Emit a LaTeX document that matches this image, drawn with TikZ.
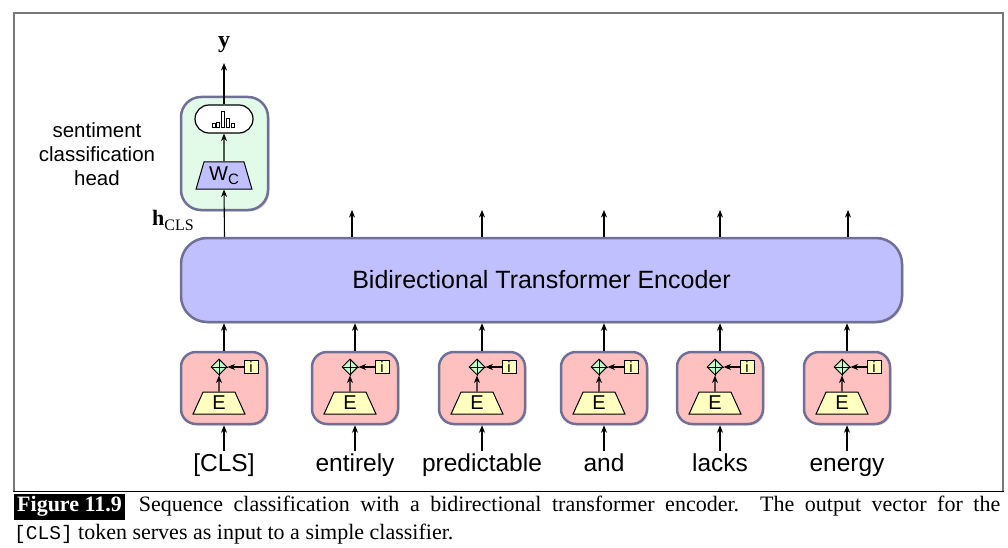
\documentclass[tikz,border=0pt]{standalone}
\usepackage{fontspec}
\setmainfont{Liberation Serif}
\setsansfont{Liberation Sans}
\setmonofont{Liberation Mono}
\usetikzlibrary{shapes.geometric,shadows,arrows.meta}
\definecolor{encfill}{RGB}{192,192,255}
\definecolor{bord}{RGB}{112,112,150}
\definecolor{tokfill}{RGB}{255,192,192}
\definecolor{headfill}{RGB}{226,250,232}
\definecolor{yel}{RGB}{255,255,192}
\definecolor{grn}{RGB}{192,255,200}
\definecolor{framec}{RGB}{120,120,120}
\tikzset{
  box/.style={draw=bord, line width=2.5pt, drop shadow={shadow xshift=1.5pt,shadow yshift=-1.5pt,opacity=0.3}},
  tokbox/.style={box, fill=tokfill, rounded corners=15pt, minimum width=86pt, minimum height=72pt, inner sep=0pt},
  arr/.style={-{Stealth[length=7.5pt,width=6pt]}, line width=1.1pt},
  etrap/.style={trapezium, trapezium stretches=true, draw=black, line width=1pt, fill=yel, trapezium angle=73, minimum width=52pt, minimum height=22pt, inner sep=0pt, font=\sffamily\fontsize{20}{20}\selectfont},
  plusnode/.style={diamond, draw=black, line width=1pt, fill=grn, minimum width=16pt, minimum height=16pt, inner sep=0pt},
  ibox/.style={rectangle, draw=black, line width=1pt, fill=yel, minimum width=14pt, minimum height=13pt, inner sep=0pt, font=\sffamily\fontsize{15}{15}\selectfont},
  word/.style={anchor=base, font=\sffamily\fontsize{24.5}{26}\selectfont, text height=18pt, text depth=5pt, inner sep=2pt},
}
\begin{document}
\begin{tikzpicture}[x=1pt,y=-1pt]
\useasboundingbox (0,0) rectangle (1008,548);
% frame
\draw[framec, line width=1.3pt] (14,491) -- (14,13) -- (1003,13) -- (1003,491);
\draw[black, line width=1pt] (13.4,491) -- (1003.6,491);
% encoder
\node[box, fill=encfill, rounded corners=26pt, minimum width=721pt, minimum height=84pt, inner sep=0pt,
      font=\sffamily\fontsize{25}{27}\selectfont] (enc) at (541.5,280) {Bidirectional Transformer Encoder};
% tokens
\foreach \i/\x/\w in {1/224/{[CLS]},2/355/{entirely},3/482/{predictable},4/604/{and},5/720/{lacks},6/847/{energy}}{
  \node[tokbox] (t\i) at (\x,388) {};
  \node[etrap] (e\i) at (\x-5,403) {E};
  \node[plusnode] (p\i) at (\x-5,367) {};
  \draw[line width=0.9pt] (p\i.north) -- (p\i.south) (p\i.west) -- (p\i.east);
  \node[ibox] (b\i) at (\x+27,367) {i};
  \node[word] (w\i) at (\x,471) {\w};
  \draw[arr] (w\i.north) -- (t\i.south);
  \draw[arr] (e\i.north) -- (p\i.south);
  \draw[arr] (b\i.west) -- (p\i.east);
  \draw[arr] (t\i.north) -- (t\i.north |- enc.south);
}
\foreach \i/\x in {2/352,3/482,4/604,5/720,6/848}{
  \coordinate (o\i) at (\x,210);
  \draw[arr] (o\i |- enc.north) -- (o\i);
}
% classification head
\node[box, fill=headfill, rounded corners=20pt, minimum width=87pt, minimum height=113pt, inner sep=0pt] (head) at (224.5,153.5) {};
\node[trapezium, trapezium stretches=true, draw=black, line width=1pt, fill=encfill, trapezium angle=72,
      minimum width=56pt, minimum height=27pt, inner sep=0pt, font=\sffamily\fontsize{20}{20}\selectfont]
      (wc) at (224,175.5) {W\raisebox{-4pt}{\fontsize{15}{15}\selectfont C}};
\node[draw=black, line width=1.2pt, fill=white, rounded corners=14pt, minimum width=58pt, minimum height=28pt, inner sep=0pt] (pill) at (224,119) {};
\foreach \bx/\bh in {212.5/4,216.5/5,221/16,226/9,231/4}{
  \draw[line width=0.7pt] (\bx,127.5) rectangle (\bx+3.2,127.5-\bh);
}
\coordinate (ytip) at (224,63);
\draw[arr] (head.south |- enc.north) -- (wc.south);
\draw[arr] (wc.north) -- (pill.south);
\draw[arr] (pill.north) -- (ytip);
\node[anchor=base, inner sep=0pt, font=\fontsize{24}{26}\selectfont\bfseries] (ylab) at (224,48) {y};
\node[anchor=base east, inner sep=0pt, font=\fontsize{22}{24}\selectfont] (hcls) at (194,225) {\textbf{h}\raisebox{-5pt}{\fontsize{16}{18}\selectfont CLS}};
\node[align=center, inner sep=0pt, font=\sffamily\fontsize{20.5}{24}\selectfont] (headlab) at (97,154) {sentiment\\classification\\head};
% caption
\node[anchor=north west, inner sep=0pt, text width=986pt, align=justify, font=\fontsize{22}{27.5}\selectfont] (cap) at (14,493.5)
{\setlength{\fboxsep}{3pt}\colorbox{black}{\textcolor{white}{\textbf{Figure 11.9}}}\hspace{14pt}Sequence classification with a bidirectional transformer encoder.\ \ The output vector for the\linebreak
{\fontsize{19.5}{27.5}\selectfont\texttt{[CLS]}} token serves as input to a simple classifier.};
\end{tikzpicture}
\end{document}
